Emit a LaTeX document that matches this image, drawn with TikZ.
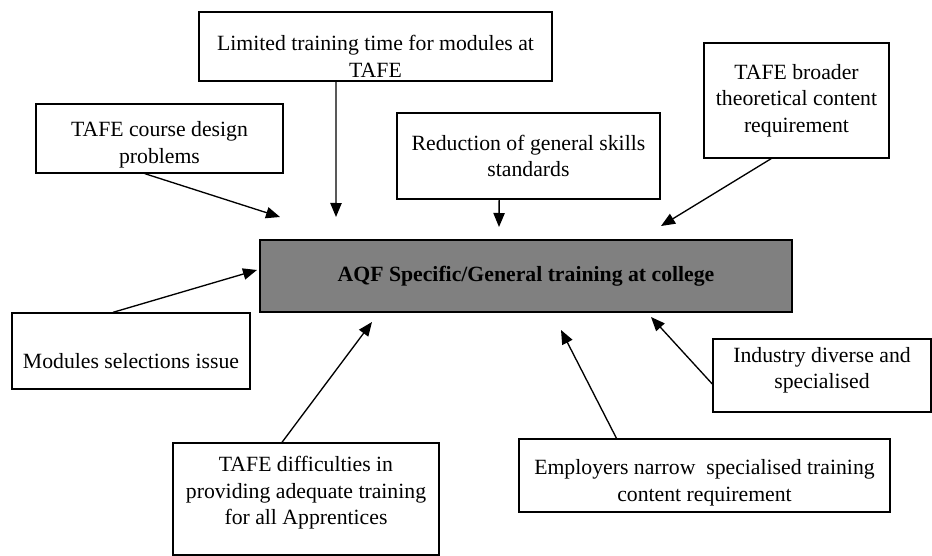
\documentclass[tikz,border=0pt]{standalone}
\usepackage{fontspec}
\setmainfont{Liberation Serif}
\usetikzlibrary{arrows.meta}

\tikzset{
  cause/.style={draw, line width=1pt, align=center, inner sep=0pt, font=\fontsize{16.3}{19.8}\selectfont},
  hub/.style={cause, fill=black!50, font=\fontsize{16.3}{19.8}\selectfont\bfseries},
  pointer/.style={line width=1pt, -{Triangle[length=10.5pt,width=8.5pt]}}
}

\begin{document}
\begin{tikzpicture}[x=0.75pt,y=0.75pt,yscale=-1,xscale=1]
\useasboundingbox (0,0) rectangle (932,556);

%Shape: Rectangle [central]
\node [hub, minimum width=399pt, minimum height=54pt] (college) at (526,276) {AQF Specific/General training at college};

%Shape: Rectangle [causes, top row]
\node [cause, minimum width=264.75pt, minimum height=51.75pt] (limited) at (375.5,46.5) {\rule{0pt}{26.5pt}Limited training time for modules at\\TAFE};
\node [cause, minimum width=185.25pt, minimum height=51.75pt] (course) at (159.5,138.5) {\rule{0pt}{20.5pt}TAFE course design\\problems};
\node [cause, minimum width=197.25pt, minimum height=64.5pt] (reduction) at (528.5,156) {Reduction of general skills\\standards};
\node [cause, minimum width=138.75pt, minimum height=86.25pt] (broader) at (796.5,100.5) {TAFE broader\\theoretical content\\requirement};

%Shape: Rectangle [causes, bottom row]
\node [cause, minimum width=178.5pt, minimum height=57pt] (modules) at (131,351) {\rule{0pt}{27pt}Modules selections issue};
\node [cause, minimum width=199.5pt, minimum height=84pt] (difficulties) at (306,499) {TAFE difficulties in\\providing adequate training\\for all Apprentices\rule[-12.5pt]{0pt}{12.5pt}};
\node [cause, minimum width=163.5pt, minimum height=54.75pt] (industry) at (822,375.5) {Industry diverse and\\specialised\rule[-11pt]{0pt}{11pt}};
\node [cause, minimum width=278.25pt, minimum height=54.75pt] (employers) at (704.5,475.5) {\rule{0pt}{22pt}Employers narrow~~specialised~training\\content requirement};

% arrow tips near the central box
\coordinate (tcourse) at (280,217);
\coordinate (tlimited) at (336,217);
\coordinate (treduction) at (499,227);
\coordinate (tbroader) at (661,226);
\coordinate (tmodules) at (257,270);
\coordinate (tdifficulties) at (372,322);
\coordinate (temployers) at (561,330);
\coordinate (tindustry) at (651,317);

%Straight Lines
\draw [pointer] ([xshift=-11pt]course.south) -- (tcourse);
\draw [pointer] ([xshift=-29.6pt]limited.south) -- (tlimited);
\draw [pointer] ([xshift=-22pt]reduction.south) -- (treduction);
\draw [pointer] ([xshift=-19pt]broader.south) -- (tbroader);
\draw [pointer] ([xshift=-13.5pt]modules.north) -- (tmodules);
\draw [pointer] ([xshift=-18pt]difficulties.north) -- (tdifficulties);
\draw [pointer] ([xshift=-66pt]employers.north) -- (temployers);
\draw [pointer] ([yshift=6.4pt]industry.west) -- (tindustry);
\end{tikzpicture}
\end{document}
